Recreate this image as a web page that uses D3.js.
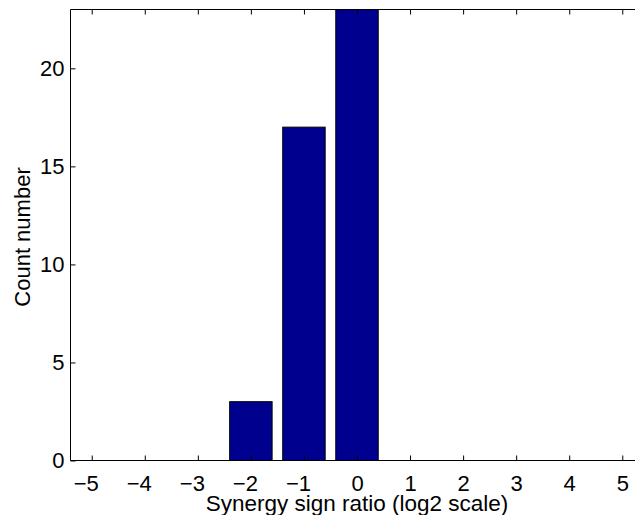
<!DOCTYPE html>
<html><head><meta charset="utf-8">
<script src="https://cdn.jsdelivr.net/npm/d3@7"></script>
<style>body{margin:0;background:#fff;} text{font-family:"Liberation Sans",Arial,sans-serif;}</style>
</head><body>
<svg id="c" width="635" height="515"></svg>
<script>
const bins = [-5,-4,-3,-2,-1,0,1,2,3,4,5];
const counts = [0,0,0,3,17,23,0,0,0,0,0];
const yTicks = [0,5,10,15,20];
const xLabel = "Synergy sign ratio (log2 scale)";
const yLabel = "Count number";

const svg = d3.select("#c");
const L = 70.5, R = 643.5, T = 9.5, B = 460.5;
const x = d3.scaleLinear().domain([-5.4, 5.4]).range([L, R]);
const y = d3.scaleLinear().domain([0, 23]).range([B, T]);
const fs = 22;

const data = bins.map((b,i)=>({b, c:counts[i]}));
svg.append("g").selectAll("rect").data(data.filter(d=>d.c>0)).join("rect")
  .attr("x", d=>x(d.b-0.4)).attr("width", d=>x(d.b+0.4)-x(d.b-0.4))
  .attr("y", d=>y(d.c)).attr("height", d=>y(0)-y(d.c))
  .attr("fill","#00008f").attr("stroke","#000").attr("stroke-width",1);

const g = svg.append("g").attr("stroke","#000").attr("stroke-width",1).attr("fill","none");
g.append("line").attr("x1",L).attr("x2",R).attr("y1",B).attr("y2",B);
g.append("line").attr("x1",L).attr("x2",R).attr("y1",T).attr("y2",T);
g.append("line").attr("x1",L).attr("x2",L).attr("y1",T).attr("y2",B);
g.append("line").attr("x1",R).attr("x2",R).attr("y1",T).attr("y2",B);

const tl = 5;
const xAxis = svg.append("g").attr("transform",`translate(0,${B})`)
  .call(d3.axisBottom(x).tickValues(bins).tickSize(-tl).tickPadding(0).tickFormat(d=>d<0?"\u2212"+Math.abs(d):d));
xAxis.select(".domain").remove();
xAxis.selectAll("text").attr("font-size",fs).attr("fill","#000")
  .attr("font-family","Liberation Sans, Arial, sans-serif")
  .attr("y",30).attr("dy",null).attr("dx", d=>d<0?-6:0);
const xTop = svg.append("g").attr("transform",`translate(0,${T})`)
  .call(d3.axisTop(x).tickValues(bins).tickSize(-tl).tickFormat(""));
xTop.select(".domain").remove();

const yAxis = svg.append("g").attr("transform",`translate(${L},0)`)
  .call(d3.axisLeft(y).tickValues(yTicks).tickSize(-tl).tickPadding(6));
yAxis.select(".domain").remove();
yAxis.selectAll("text").attr("font-size",fs).attr("fill","#000").attr("font-family","Liberation Sans, Arial, sans-serif");
const yRight = svg.append("g").attr("transform",`translate(${R},0)`)
  .call(d3.axisRight(y).tickValues(yTicks).tickSize(-tl).tickFormat(""));
yRight.select(".domain").remove();

svg.append("text").attr("x", x(0)).attr("y", 510.5).attr("text-anchor","middle")
  .attr("font-size",22.5).attr("fill","#000").text(xLabel);
svg.append("text").attr("transform",`translate(30,${(T+B)/2+2}) rotate(-90)`).attr("text-anchor","middle")
  .attr("font-size",fs).attr("fill","#000").text(yLabel);
</script>
</body></html>
